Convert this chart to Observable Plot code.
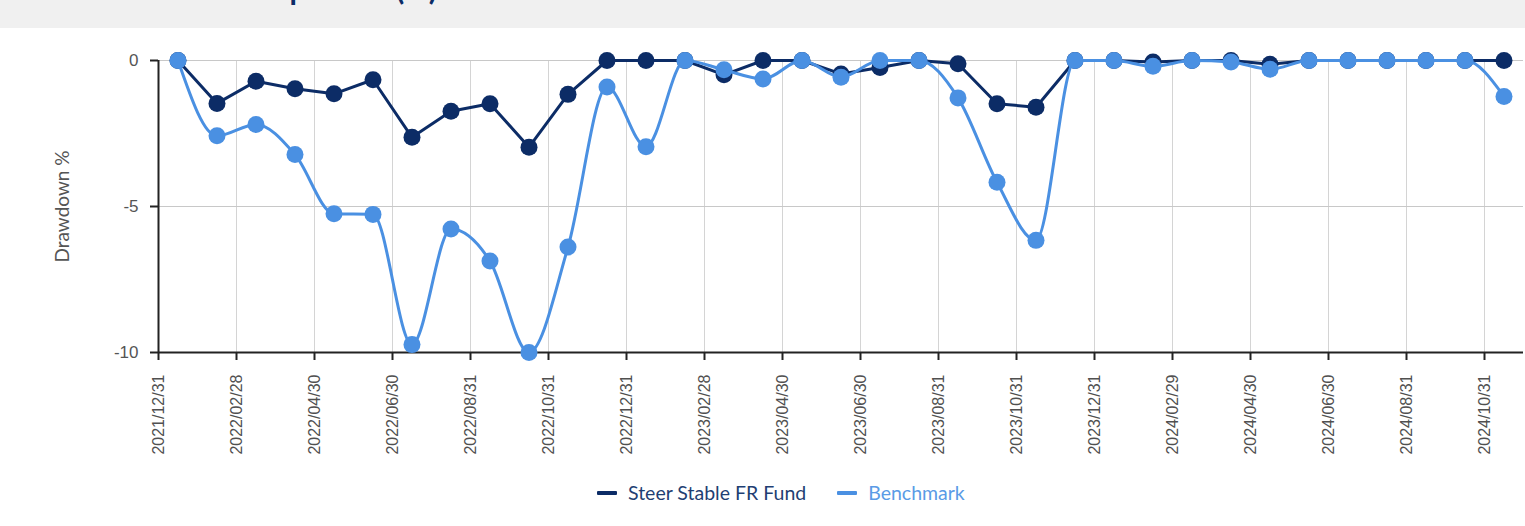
<!DOCTYPE html>
<html><head><meta charset="utf-8">
<script src="https://cdn.jsdelivr.net/npm/d3@7"></script>
<script src="https://cdn.jsdelivr.net/npm/@observablehq/plot@0.6"></script>
<style>
body{margin:0;background:#fff;width:1525px;height:526px;overflow:hidden;position:relative;font-family:Lato,sans-serif}
#title{position:absolute;left:0;top:0;width:1525px;height:28px;background:#f0f0f0;overflow:hidden}
#title span{position:absolute;left:5px;top:-27px;font:bold 30px/30px Lato,sans-serif;color:#0c2c66;white-space:nowrap}
#chart{position:absolute;left:0;top:28px}
#legend{position:absolute;top:481px;left:597px;display:flex;align-items:center;font:19.5px/24px Lato,sans-serif}
#legend .item{display:flex;align-items:center;margin-right:31px}
#legend .sw{width:20px;height:4px;margin-right:11px;border-radius:1px}
</style>
</head><body>
<div id="title"><span>Historical drawdown periods (%)</span></div>
<div id="chart"></div>
<div id="legend"></div>
<script>
const dates = ["2021/12/31","2022/01/31","2022/02/28","2022/03/31","2022/04/30","2022/05/31","2022/06/30","2022/07/31","2022/08/31","2022/09/30","2022/10/31","2022/11/30","2022/12/31","2023/01/31","2023/02/28","2023/03/31","2023/04/30","2023/05/31","2023/06/30","2023/07/31","2023/08/31","2023/09/30","2023/10/31","2023/11/30","2023/12/31","2024/01/31","2024/02/29","2024/03/31","2024/04/30","2024/05/31","2024/06/30","2024/07/31","2024/08/31","2024/09/30","2024/10/31"];
const fund = [0,-1.47,-0.71,-0.97,-1.14,-0.66,-2.63,-1.74,-1.48,-2.97,-1.16,0,0,0,-0.49,0,0,-0.46,-0.24,0,-0.11,-1.48,-1.6,0,0,-0.05,0,0,-0.13,0,0,0,0,0,0];
const bench = [0,-2.58,-2.19,-3.22,-5.25,-5.27,-9.73,-5.77,-6.87,-10.0,-6.39,-0.91,-2.95,0,-0.32,-0.63,0,-0.57,0,0,-1.28,-4.17,-6.16,0,0,-0.2,0,-0.05,-0.3,0,0,0,0,0,-1.23];
const seriesNames = ["Steer Stable FR Fund","Benchmark"];
const seriesColors = ["#0c2c66","#4a90e2"];
const yTicks = [0,-5,-10];
const yLabel = "Drawdown %";

const fundData = fund.map((v,i)=>({x:i+0.5, y:v}));
const benchData = bench.map((v,i)=>({x:i+0.5, y:v}));
const xTicks = dates.map((d,i)=>i).filter(i=>i%2===0);

const plot = Plot.plot({
  width:1525, height:442,
  marginLeft:158, marginRight:2, marginTop:32, marginBottom:118,
  style:{fontFamily:"'Liberation Sans', Arial, sans-serif", background:"transparent", color:"#555"},
  x:{domain:[0, dates.length], axis:null},
  y:{domain:[-10,0], axis:null},
  marks:[
    Plot.ruleX(xTicks,{stroke:"#d4d4d4", strokeWidth:1}),
    Plot.ruleY(yTicks.filter(t=>t!==-10),{stroke:"#c8c8c8", strokeWidth:1}),
    Plot.ruleY([-10],{stroke:"#222", strokeWidth:2}),
    Plot.ruleX([0],{stroke:"#222", strokeWidth:2}),
    Plot.axisX({ticks:xTicks, tickFormat:i=>dates[i], tickRotate:-90, tickSize:8, tickPadding:14, fontSize:16, stroke:"#222", strokeWidth:2, color:"#505050", anchor:"bottom", label:null}),
    Plot.axisY({ticks:yTicks, tickFormat:d=>String(d), tickSize:8, tickPadding:12, fontSize:17, stroke:"#222", strokeWidth:2, color:"#555", anchor:"left", label:null}),
    Plot.text([yLabel],{frameAnchor:"left", textAnchor:"middle", dx:-96, rotate:-90, fontSize:19, fill:"#555", fontFamily:"Lato, sans-serif"}),
    Plot.line(fundData,{x:"x", y:"y", stroke:seriesColors[0], strokeWidth:3}),
    Plot.dot(fundData,{x:"x", y:"y", r:8.5, fill:seriesColors[0]}),
    Plot.line(benchData,{x:"x", y:"y", stroke:seriesColors[1], strokeWidth:3, curve:"monotone-x"}),
    Plot.dot(benchData,{x:"x", y:"y", r:8.5, fill:seriesColors[1]})
  ]
});
document.getElementById("chart").appendChild(plot);

const leg = document.getElementById("legend");
const textColors = ["#1f3f73","#5a9be6"];
seriesNames.forEach((n,i)=>{
  const it = document.createElement("div"); it.className="item";
  const sw = document.createElement("div"); sw.className="sw"; sw.style.background=seriesColors[i];
  const t = document.createElement("span"); t.textContent=n; t.style.color=textColors[i];
  it.appendChild(sw); it.appendChild(t); leg.appendChild(it);
});
</script>
</body></html>
